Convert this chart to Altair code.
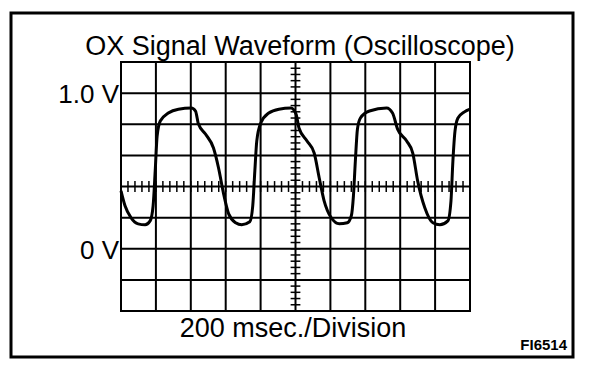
import altair as alt
import pandas as pd

# Trace (time in ms, voltage in V)
t_ms = [0, 23, 58, 98, 138, 167, 184, 196, 207, 225, 271, 329, 403, 427, 444, 484, 530, 559, 588, 617,
        657, 692, 738, 755, 767, 778, 801, 847, 905, 974, 1003, 1020, 1066, 1107, 1136, 1164, 1205, 1251,
        1297, 1320, 1332, 1343, 1355, 1372, 1424, 1522, 1556, 1585, 1637, 1672, 1700, 1741, 1787, 1827,
        1873, 1891, 1902, 1914, 1931, 1966, 2000]
volts = [0.372, 0.276, 0.199, 0.160, 0.154, 0.179, 0.276, 0.50, 0.724, 0.821, 0.872, 0.897, 0.904, 0.885,
         0.801, 0.737, 0.647, 0.519, 0.353, 0.224, 0.167, 0.154, 0.173, 0.276, 0.50, 0.692, 0.808, 0.872,
         0.897, 0.904, 0.865, 0.776, 0.692, 0.615, 0.455, 0.308, 0.199, 0.160, 0.167, 0.212, 0.340, 0.564,
         0.769, 0.840, 0.885, 0.904, 0.872, 0.769, 0.692, 0.615, 0.436, 0.263, 0.167, 0.154, 0.179, 0.308,
         0.564, 0.756, 0.840, 0.878, 0.897]

time_grid = [0, 200, 400, 600, 800, 1000, 1200, 1400, 1600, 1800, 2000]
volt_grid = [-0.4, -0.2, 0.0, 0.2, 0.4, 0.6, 0.8, 1.0, 1.2]
minor_time = [t for t in range(0, 2001, 40)]
minor_volt = [round(-0.4 + 0.04 * i, 2) for i in range(41)]
volt_labels = ["1.0 V", "0 V"]
volt_label_vals = [1.0, 0.0]

W, H = 349, 249
FONT = "Liberation Sans"

xs = alt.Scale(domain=[0, 2000], nice=False, zero=False)
ys = alt.Scale(domain=[-0.4, 1.2], nice=False, zero=False)


def X(field):
    return alt.X(field, scale=xs, axis=None)


def Y(field):
    return alt.Y(field, scale=ys, axis=None)


trace = pd.DataFrame({"t": t_ms, "v": volts})

vgrid = alt.Chart(pd.DataFrame({"t": time_grid, "y0": -0.4, "y1": 1.2})).mark_rule(
    color="black", strokeWidth=2).encode(x=X("t:Q"), y=Y("y0:Q"), y2="y1:Q")
hgrid = alt.Chart(pd.DataFrame({"v": volt_grid, "x0": 0, "x1": 2000})).mark_rule(
    color="black", strokeWidth=2).encode(y=Y("v:Q"), x=X("x0:Q"), x2="x1:Q")

hticks = alt.Chart(pd.DataFrame({"t": minor_time, "y0": 0.365, "y1": 0.435})).mark_rule(
    color="black", strokeWidth=1.5).encode(x=X("t:Q"), y=Y("y0:Q"), y2="y1:Q")
vticks = alt.Chart(pd.DataFrame({"v": minor_volt, "x0": 972, "x1": 1028})).mark_rule(
    color="black", strokeWidth=1.5).encode(y=Y("v:Q"), x=X("x0:Q"), x2="x1:Q")

line = alt.Chart(trace).mark_line(color="black", strokeWidth=3, interpolate="monotone").encode(
    x=X("t:Q"), y=Y("v:Q"))

vlab = alt.Chart(pd.DataFrame({"lab": volt_labels, "v": volt_label_vals})).mark_text(
    font=FONT, fontSize=26, align="right", baseline="alphabetic", dy=10, color="black").encode(
    y=Y("v:Q"), x=alt.value(-2), text="lab:N")

title = alt.Chart(pd.DataFrame({"s": ["OX Signal Waveform (Oscilloscope)"]})).mark_text(
    font=FONT, fontSize=27, align="center", baseline="alphabetic", color="black").encode(
    x=alt.value(179), y=alt.value(-7), text="s:N")
xlab = alt.Chart(pd.DataFrame({"s": ["200 msec./Division"]})).mark_text(
    font=FONT, fontSize=27, align="center", baseline="alphabetic", color="black").encode(
    x=alt.value(172), y=alt.value(H + 26), text="s:N")
code = alt.Chart(pd.DataFrame({"s": ["FI6514"]})).mark_text(
    font=FONT, fontSize=15, fontWeight="bold", align="right", baseline="alphabetic", color="black").encode(
    x=alt.value(446), y=alt.value(H + 39), text="s:N")
frame = alt.Chart(pd.DataFrame({"k": [0]})).mark_rect(fill=None, stroke="black", strokeWidth=3).encode(
    x=alt.value(-110), x2=alt.value(452), y=alt.value(-49), y2=alt.value(295))

chart = alt.layer(vgrid, hgrid, hticks, vticks, line, vlab, title, xlab, code, frame).properties(
    width=W, height=H,
    padding={"left": 113, "top": 54, "right": 128, "bottom": 54},
    autosize=alt.AutoSizeParams(type="none"),
    background="white",
).configure_view(stroke="black", strokeWidth=2)

chart.save("out.html", embed_options={"renderer": "svg", "actions": False})
